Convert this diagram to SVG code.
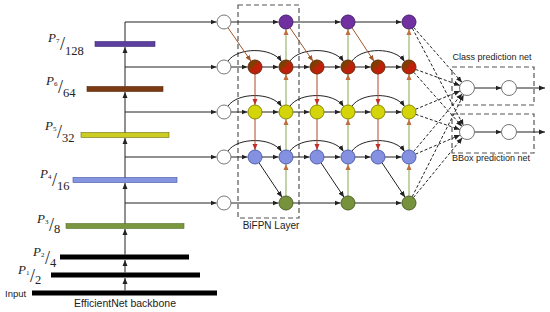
<svg xmlns="http://www.w3.org/2000/svg" width="550" height="312" viewBox="0 0 550 312">
<style>
.lbl{font-family:"Liberation Serif",serif;fill:#222;font-size:12.5px}
.pi{font-style:italic;font-size:13px}
.sub{font-size:7px}
.sl{font-size:18px}
.sans{font-family:"Liberation Sans","Open Sans",sans-serif;fill:#222}
.w{fill:#fff;stroke:#777;stroke-width:1}
.pu{fill:#7030a0;stroke:#4b2070;stroke-width:1}
.rd{fill:url(#gr);stroke:#6b2a08;stroke-width:1}
.ye{fill:#d4d40a;stroke:#8a8a00;stroke-width:1}
.bl{fill:#8490e0;stroke:#5060b0;stroke-width:1}
.gn{fill:#76923c;stroke:#4f6228;stroke-width:1}
.pw{fill:#fff;stroke:#777;stroke-width:1}
.k{stroke:#222;stroke-width:1;fill:none}
.br{stroke:#a0562a;stroke-width:1;fill:none}
.dn{stroke:#b04a2a;stroke-width:1;fill:none}
.up{stroke:#8aa850;stroke-width:1;fill:none}
.da{stroke:#222;stroke-width:1;fill:none;stroke-dasharray:3,2}
.box{fill:none;stroke:#555;stroke-width:1.2;stroke-dasharray:5,3}
</style>
<defs>
<linearGradient id="gr" x1="0" y1="0" x2="1" y2="1">
<stop offset="0.3" stop-color="#7b3f00"/>
<stop offset="0.55" stop-color="#c0200a"/>
</linearGradient>
<marker id="a" markerWidth="6" markerHeight="6" refX="6" refY="3" orient="auto" markerUnits="userSpaceOnUse">
<path d="M0,0.5 L6,3 L0,5.5 z" fill="#222"/>
</marker>
<marker id="ab" markerWidth="6" markerHeight="6" refX="6" refY="3" orient="auto" markerUnits="userSpaceOnUse">
<path d="M0,0.5 L6,3 L0,5.5 z" fill="#a0562a"/>
</marker>
<marker id="ad" markerWidth="6" markerHeight="6" refX="6" refY="3" orient="auto" markerUnits="userSpaceOnUse">
<path d="M0,0.5 L6,3 L0,5.5 z" fill="#c0302a"/>
</marker>
<marker id="ag" markerWidth="6" markerHeight="6" refX="6" refY="3" orient="auto" markerUnits="userSpaceOnUse">
<path d="M0,0.5 L6,3 L0,5.5 z" fill="#c07040"/>
</marker>
</defs>

<g id="backbone">
<rect x="95" y="41.5" width="60" height="5" fill="#5c3f9e" stroke="#3f2a70" stroke-width="0.6"/>
<rect x="87" y="86.5" width="76" height="5" fill="#7b3a12" stroke="#55280c" stroke-width="0.6"/>
<rect x="81" y="132.5" width="88" height="5" fill="#cccc22" stroke="#6f6f10" stroke-width="0.6"/>
<rect x="73" y="177.5" width="104" height="5" fill="#8595e0" stroke="#4050a0" stroke-width="0.6"/>
<rect x="66" y="223.5" width="118" height="5" fill="#7a963e" stroke="#55702a" stroke-width="0.6"/>
<rect x="60" y="254.5" width="129" height="5" fill="#000"/>
<rect x="51" y="272.5" width="149" height="5" fill="#000"/>
<rect x="32" y="290.5" width="185" height="5" fill="#000"/>
</g>

<g id="labels">
<text class="lbl" x="48" y="42"><tspan class="pi">P</tspan><tspan class="sub" dy="1">7</tspan><tspan class="sl" dy="7" dx="0.5">/</tspan><tspan dy="5">128</tspan></text>
<text class="lbl" x="46" y="85"><tspan class="pi">P</tspan><tspan class="sub" dy="1">6</tspan><tspan class="sl" dy="7" dx="0.5">/</tspan><tspan dy="4">64</tspan></text>
<text class="lbl" x="45" y="130"><tspan class="pi">P</tspan><tspan class="sub" dy="1">5</tspan><tspan class="sl" dy="7" dx="0.5">/</tspan><tspan dy="4">32</tspan></text>
<text class="lbl" x="40" y="178"><tspan class="pi">P</tspan><tspan class="sub" dy="1">4</tspan><tspan class="sl" dy="7" dx="0.5">/</tspan><tspan dy="4">16</tspan></text>
<text class="lbl" x="37" y="223"><tspan class="pi">P</tspan><tspan class="sub" dy="1">3</tspan><tspan class="sl" dy="7" dx="0.5">/</tspan><tspan dy="2">8</tspan></text>
<text class="lbl" x="33" y="256"><tspan class="pi">P</tspan><tspan class="sub" dy="1">2</tspan><tspan class="sl" dy="7" dx="0.5">/</tspan><tspan dy="3">4</tspan></text>
<text class="lbl" x="18" y="274"><tspan class="pi">P</tspan><tspan class="sub" dy="1">1</tspan><tspan class="sl" dy="7" dx="0.5">/</tspan><tspan dy="2">2</tspan></text>
<text class="sans" x="5" y="297" font-size="9.5">Input</text>
<text class="sans" x="125" y="307" font-size="10.5" text-anchor="middle">EfficientNet backbone</text>
<text class="sans" x="271" y="229" font-size="10" text-anchor="middle">BiFPN Layer</text>
<text class="sans" x="492" y="60" font-size="9" text-anchor="middle">Class prediction net</text>
<text class="sans" x="491" y="161" font-size="9" text-anchor="middle">BBox prediction net</text>
</g>

<g id="boxes">
<rect class="box" x="238" y="5" width="61" height="213"/>
<rect class="box" x="452" y="67" width="82" height="38"/>
<rect class="box" x="452" y="114" width="82" height="39"/>
</g>

<g id="connectors">
<path class="k" d="M125,290.5 V278" marker-end="url(#a)"/>
<path class="k" d="M125,272.5 V260" marker-end="url(#a)"/>
<path class="k" d="M125,254.5 V229" marker-end="url(#a)"/>
<path class="k" d="M125,223.5 V183" marker-end="url(#a)"/>
<path class="k" d="M125,177.5 V138" marker-end="url(#a)"/>
<path class="k" d="M125,132.5 V92" marker-end="url(#a)"/>
<path class="k" d="M125,86.5 V47" marker-end="url(#a)"/>
<path class="k" d="M125,41.5 V22"/>
<path class="k" d="M125,22 H216.5" marker-end="url(#a)"/>
<path class="k" d="M125,67 H216.5" marker-end="url(#a)"/>
<path class="k" d="M125,112 H216.5" marker-end="url(#a)"/>
<path class="k" d="M125,157 H216.5" marker-end="url(#a)"/>
<path class="k" d="M125,203 H216.5" marker-end="url(#a)"/>

<path class="k" d="M231,22 H278.5" marker-end="url(#a)"/>
<path class="k" d="M293,22 H340.5" marker-end="url(#a)"/>
<path class="k" d="M355,22 H401.5" marker-end="url(#a)"/>
<path class="k" d="M231,203 H278.5" marker-end="url(#a)"/>
<path class="k" d="M293,203 H340.5" marker-end="url(#a)"/>
<path class="k" d="M355,203 H401.5" marker-end="url(#a)"/>

<path class="k" d="M231,67 H247.5" marker-end="url(#a)"/>
<path class="k" d="M262,67 H278.5" marker-end="url(#a)"/>
<path class="k" d="M293,67 H309.5" marker-end="url(#a)"/>
<path class="k" d="M324,67 H340.5" marker-end="url(#a)"/>
<path class="k" d="M355,67 H370.5" marker-end="url(#a)"/>
<path class="k" d="M385,67 H401.5" marker-end="url(#a)"/>
<path class="k" d="M231,112 H247.5" marker-end="url(#a)"/>
<path class="k" d="M262,112 H278.5" marker-end="url(#a)"/>
<path class="k" d="M293,112 H309.5" marker-end="url(#a)"/>
<path class="k" d="M324,112 H340.5" marker-end="url(#a)"/>
<path class="k" d="M355,112 H370.5" marker-end="url(#a)"/>
<path class="k" d="M385,112 H401.5" marker-end="url(#a)"/>
<path class="k" d="M231,157 H247.5" marker-end="url(#a)"/>
<path class="k" d="M262,157 H278.5" marker-end="url(#a)"/>
<path class="k" d="M293,157 H309.5" marker-end="url(#a)"/>
<path class="k" d="M324,157 H340.5" marker-end="url(#a)"/>
<path class="k" d="M355,157 H370.5" marker-end="url(#a)"/>
<path class="k" d="M385,157 H401.5" marker-end="url(#a)"/>

<path class="k" d="M228,61 C238,47 272,47 281.5,61.5" marker-end="url(#a)"/>
<path class="k" d="M290,61 C300,47 334,47 343.5,61.5" marker-end="url(#a)"/>
<path class="k" d="M352,61 C362,47 395,47 404.5,61.5" marker-end="url(#a)"/>
<path class="k" d="M228,106 C238,92 272,92 281.5,106.5" marker-end="url(#a)"/>
<path class="k" d="M290,106 C300,92 334,92 343.5,106.5" marker-end="url(#a)"/>
<path class="k" d="M352,106 C362,92 395,92 404.5,106.5" marker-end="url(#a)"/>
<path class="k" d="M228,151 C238,137 272,137 281.5,151.5" marker-end="url(#a)"/>
<path class="k" d="M290,151 C300,137 334,137 343.5,151.5" marker-end="url(#a)"/>
<path class="k" d="M352,151 C362,137 395,137 404.5,151.5" marker-end="url(#a)"/>

<path class="br" d="M228,27.8 L251,61.2" marker-end="url(#ab)"/>
<path class="br" d="M290,27.8 L313,61.2" marker-end="url(#ab)"/>
<path class="br" d="M352,27.8 L374,61.2" marker-end="url(#ab)"/>
<path class="dn" d="M255,74 V105" marker-end="url(#ad)"/>
<path class="dn" d="M255,119 V150" marker-end="url(#ad)"/>
<path class="dn" d="M317,74 V105" marker-end="url(#ad)"/>
<path class="dn" d="M317,119 V150" marker-end="url(#ad)"/>
<path class="dn" d="M378,74 V105" marker-end="url(#ad)"/>
<path class="dn" d="M378,119 V150" marker-end="url(#ad)"/>
<path class="k" d="M259,162.8 L282,197.2" marker-end="url(#a)"/>
<path class="k" d="M321,162.8 L344,197.2" marker-end="url(#a)"/>
<path class="k" d="M382,162.8 L405,197.2" marker-end="url(#a)"/>
<path class="up" d="M286,196 V164" marker-end="url(#ag)"/>
<path class="up" d="M286,150 V119" marker-end="url(#ag)"/>
<path class="up" d="M286,105 V74" marker-end="url(#ag)"/>
<path class="up" d="M286,60 V29" marker-end="url(#ag)"/>
<path class="up" d="M348,196 V164" marker-end="url(#ag)"/>
<path class="up" d="M348,150 V119" marker-end="url(#ag)"/>
<path class="up" d="M348,105 V74" marker-end="url(#ag)"/>
<path class="up" d="M348,60 V29" marker-end="url(#ag)"/>
<path class="up" d="M409,196 V164" marker-end="url(#ag)"/>
<path class="up" d="M409,150 V119" marker-end="url(#ag)"/>
<path class="up" d="M409,105 V74" marker-end="url(#ag)"/>
<path class="up" d="M409,60 V29" marker-end="url(#ag)"/>

<path class="da" d="M413.6,27.3 L462,82.4" marker-end="url(#a)"/>
<path class="da" d="M412.3,28.2 L463.5,125.4" marker-end="url(#a)"/>
<path class="da" d="M415.6,69.4 L460,85.5" marker-end="url(#a)"/>
<path class="da" d="M413.7,72.2 L462,126.4" marker-end="url(#a)"/>
<path class="da" d="M415.5,109.3 L460.1,90.9" marker-end="url(#a)"/>
<path class="da" d="M415.6,114.3 L459.9,129.6" marker-end="url(#a)"/>
<path class="da" d="M413.5,151.6 L462.2,93.7" marker-end="url(#a)"/>
<path class="da" d="M415.4,154.2 L460.1,135" marker-end="url(#a)"/>
<path class="da" d="M412.2,196.7 L463.6,94.7" marker-end="url(#a)"/>
<path class="da" d="M413.4,197.6 L462.3,137.8" marker-end="url(#a)"/>

<path class="k" d="M474.5,88 H501.5" marker-end="url(#a)"/>
<path class="k" d="M516.5,88 H545" marker-end="url(#a)"/>
<path class="k" d="M474.5,132 H501.5" marker-end="url(#a)"/>
<path class="k" d="M516.5,132 H545" marker-end="url(#a)"/>
</g>

<g id="in7"><circle class="w" cx="224" cy="22" r="7"/></g>
<g id="in6"><circle class="w" cx="224" cy="67" r="7"/></g>
<g id="in5"><circle class="w" cx="224" cy="112" r="7"/></g>
<g id="in4"><circle class="w" cx="224" cy="157" r="7"/></g>
<g id="in3"><circle class="w" cx="224" cy="203" r="7"/></g>

<g id="p7nodes">
<circle class="pu" cx="286" cy="22" r="7"/>
<circle class="pu" cx="348" cy="22" r="7"/>
<circle class="pu" cx="409" cy="22" r="7"/>
</g>
<g id="p6nodes">
<circle class="rd" cx="255" cy="67" r="7"/>
<circle class="rd" cx="286" cy="67" r="7"/>
<circle class="rd" cx="317" cy="67" r="7"/>
<circle class="rd" cx="348" cy="67" r="7"/>
<circle class="rd" cx="378" cy="67" r="7"/>
<circle class="rd" cx="409" cy="67" r="7"/>
</g>
<g id="p5nodes">
<circle class="ye" cx="255" cy="112" r="7"/>
<circle class="ye" cx="286" cy="112" r="7"/>
<circle class="ye" cx="317" cy="112" r="7"/>
<circle class="ye" cx="348" cy="112" r="7"/>
<circle class="ye" cx="378" cy="112" r="7"/>
<circle class="ye" cx="409" cy="112" r="7"/>
</g>
<g id="p4nodes">
<circle class="bl" cx="255" cy="157" r="7"/>
<circle class="bl" cx="286" cy="157" r="7"/>
<circle class="bl" cx="317" cy="157" r="7"/>
<circle class="bl" cx="348" cy="157" r="7"/>
<circle class="bl" cx="378" cy="157" r="7"/>
<circle class="bl" cx="409" cy="157" r="7"/>
</g>
<g id="p3nodes">
<circle class="gn" cx="286" cy="203" r="7"/>
<circle class="gn" cx="348" cy="203" r="7"/>
<circle class="gn" cx="409" cy="203" r="7"/>
</g>
<g id="class-net">
<circle class="pw" cx="467" cy="88" r="7.5"/>
<circle class="pw" cx="509" cy="88" r="7.5"/>
</g>
<g id="bbox-net">
<circle class="pw" cx="467" cy="132" r="7.5"/>
<circle class="pw" cx="509" cy="132" r="7.5"/>
</g>
</svg>
